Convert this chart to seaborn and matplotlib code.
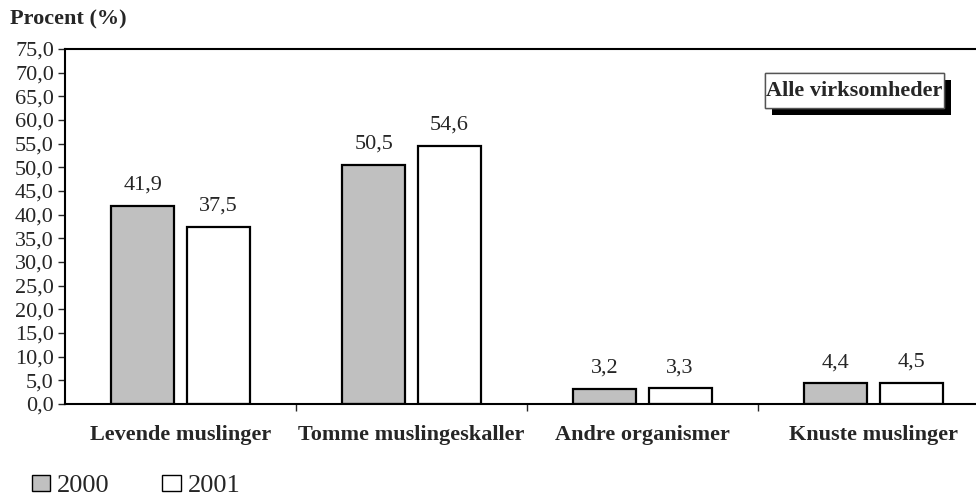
import matplotlib
matplotlib.use("Agg")
import matplotlib.pyplot as plt
import matplotlib.patheffects as pe
import seaborn as sns
import pandas as pd
from matplotlib.ticker import FuncFormatter
from matplotlib.patches import Patch, Rectangle

categories = ["Levende muslinger", "Tomme muslingeskaller", "Andre organismer", "Knuste muslinger"]
years = ["2000", "2001"]
values_2000 = [41.9, 50.5, 3.2, 4.4]
values_2001 = [37.5, 54.6, 3.3, 4.5]
colors = {"2000": "#C0C0C0", "2001": "#FFFFFF"}

df = pd.DataFrame({
    "Kategori": categories * 2,
    "År": ["2000"] * 4 + ["2001"] * 4,
    "Procent": values_2000 + values_2001,
})

sns.set_style("white")
plt.rcParams["font.family"] = ["Liberation Serif", "DejaVu Serif"]

fig = plt.figure(figsize=(9.76, 4.96), dpi=100)
ax = fig.add_axes([65/976, 1-404/496, 924/976, 355/496])

sns.barplot(data=df, x="Kategori", y="Procent", hue="År", hue_order=years,
            order=categories, palette=colors, width=0.65, gap=0.16,
            edgecolor="black", linewidth=1.6, ax=ax, legend=False, errorbar=None)

ax.set_xlim(-0.5, 3.5)
ax.set_ylim(0, 75)
ax.set_yticks(range(0, 76, 5))
ax.yaxis.set_major_formatter(FuncFormatter(lambda v, p: f"{v:.1f}".replace(".", ",")))
ax.set_xticks([0.5, 1.5, 2.5])
ax.set_xticklabels([])
ax.tick_params(axis="y", direction="out", length=5, width=1, labelsize=16, left=True, pad=3)
ax.tick_params(axis="x", direction="out", length=5, width=1, bottom=True)
for i, c in enumerate(categories):
    ax.text(i, -31/355, c, transform=ax.get_xaxis_transform(), ha="center", va="center",
            fontsize=16, fontweight="bold")

for s in ["left", "bottom", "top"]:
    ax.spines[s].set_visible(True)
    ax.spines[s].set_color("black")
    ax.spines[s].set_linewidth(1.5)
ax.spines["right"].set_visible(False)
ax.set_xlabel("")
ax.set_ylabel("")

for cont in ax.containers:
    labels = [f"{b.get_height():.1f}".replace(".", ",") for b in cont]
    ax.bar_label(cont, labels=labels, padding=8, fontsize=16)

fig.text(10/976, 1-19/496, "Procent (%)", fontsize=16, fontweight="bold", va="center", ha="left")

rect = Rectangle((765/976, 1-108/496), 179/976, 35/496, transform=fig.transFigure,
                 facecolor="white", edgecolor="#555555", linewidth=1, zorder=5)
rect.set_path_effects([pe.withSimplePatchShadow(offset=(5, -5), shadow_rgbFace="black", alpha=1.0),
                       pe.Normal()])
fig.add_artist(rect)
fig.text(854.5/976, 1-91/496, "Alle virksomheder", fontsize=16, fontweight="bold",
         ha="center", va="center", zorder=6)

handles = [Patch(facecolor=colors[y], edgecolor="black", linewidth=1, label=y) for y in years]
fig.legend(handles=handles, loc="center left", bbox_to_anchor=(32/976, 1-486/496), ncol=2,
           frameon=False, fontsize=19, handlelength=0.7, handleheight=0.6, handletextpad=0.25,
           columnspacing=2.0, borderaxespad=0, borderpad=0)

fig.savefig("out.png", dpi=100)
